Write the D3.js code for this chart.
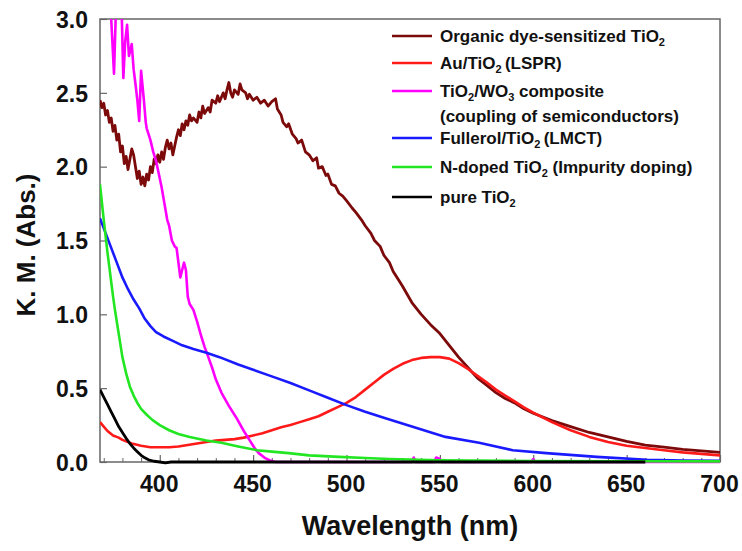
<!DOCTYPE html>
<html>
<head>
<meta charset="utf-8">
<script src="https://cdn.jsdelivr.net/npm/d3@7"></script>
<style>
  body { margin: 0; background: #fff; }
  svg { display: block; font-family: "Liberation Sans", Arial, sans-serif; }
</style>
</head>
<body>
<svg id="chart" width="742" height="551"></svg>
<script>
// ---- Data ----
const dyeWl = [368,369,370,371,372,373,374,375,376,377,378,379,380,381,382,383,384,385,386,387,388,389,390,391,392,393,394,395,396,397,398,399,400,401,402,403,404,405,406,407,408,409,410,411,412,413,414,415,416,417,418,420,421,422,423,424,426,427,428,430,431,432,434,435,436,437,438,439,440,442,443,444,446,447,448,450,452,454,456,458,460,462,463,465,466,468,469,471,473,474,476,478,480,482,484,485,487,489,490,492,494,496,498,500,503,505,508,510,513,515,518,520,523,525,528,530,535,540,545,550,555,560,565,570,575,580,585,590,595,600,610,620,630,640,650,660,670,680,690,700];
const dyeKM = [2.45,2.40,2.43,2.35,2.38,2.30,2.33,2.24,2.28,2.18,2.22,2.10,2.14,2.02,2.07,1.98,2.05,2.12,2.08,2.00,1.92,1.97,1.88,1.93,1.87,1.95,1.91,2.00,1.96,2.05,2.02,2.08,2.03,2.10,2.05,2.13,2.18,2.12,2.16,2.08,2.14,2.20,2.25,2.21,2.29,2.25,2.31,2.28,2.35,2.31,2.33,2.30,2.37,2.33,2.41,2.36,2.40,2.37,2.45,2.43,2.48,2.44,2.50,2.46,2.52,2.57,2.50,2.47,2.52,2.49,2.56,2.52,2.50,2.46,2.49,2.45,2.47,2.43,2.45,2.41,2.44,2.46,2.39,2.35,2.30,2.27,2.29,2.22,2.19,2.16,2.18,2.10,2.08,2.04,2.06,1.99,2.00,1.94,1.95,1.88,1.87,1.82,1.80,1.77,1.72,1.69,1.64,1.60,1.55,1.50,1.46,1.40,1.35,1.29,1.23,1.19,1.08,1.00,0.93,0.87,0.79,0.71,0.64,0.57,0.52,0.47,0.43,0.40,0.36,0.33,0.28,0.24,0.20,0.17,0.14,0.115,0.10,0.085,0.075,0.065];

const auWl = [368,370,372,375,378,380,385,390,395,400,405,410,415,420,425,430,435,440,445,450,455,460,465,470,475,480,485,490,495,500,505,510,515,520,525,530,535,540,545,550,555,560,565,570,575,580,585,590,595,600,610,620,630,640,650,660,670,680,690,700];
const auKM = [0.27,0.24,0.21,0.18,0.165,0.15,0.125,0.11,0.10,0.10,0.10,0.105,0.115,0.125,0.135,0.145,0.15,0.155,0.165,0.18,0.195,0.215,0.235,0.25,0.27,0.29,0.31,0.34,0.37,0.40,0.44,0.49,0.54,0.59,0.63,0.665,0.69,0.705,0.71,0.71,0.70,0.67,0.63,0.585,0.54,0.49,0.45,0.41,0.37,0.335,0.27,0.215,0.17,0.135,0.11,0.095,0.08,0.065,0.055,0.045];

const wo3Wl = [372,373,374,375.5,376.5,378,379.5,380.5,381.5,382.5,383.5,385,386,387,388,389,390,391.5,392.5,393,394,395,396.5,398,399.5,401,402.5,404,405,406.5,408,409,410,411,412,413,414,415,416,418,420,422,424,426,428,430,433,437,441,445,448,451,453,456,459,462,480,535,536,537,547,548,550,551,599,600,601,700];
const wo3KM = [3.3,3.2,3.0,2.63,3.05,3.3,3.1,2.6,2.85,2.96,2.75,2.83,2.66,2.56,2.45,2.31,2.65,2.45,2.30,2.26,2.22,2.18,2.10,2.04,1.95,1.86,1.75,1.64,1.60,1.50,1.46,1.45,1.35,1.25,1.30,1.35,1.30,1.12,1.07,1.03,0.95,0.86,0.78,0.71,0.64,0.56,0.47,0.38,0.30,0.21,0.15,0.09,0.06,0.03,0.01,0.0,0.0,0.0,0.03,0.0,0.0,0.03,0.02,0.0,0.0,0.02,0.0,0.0];

const fulWl = [368,371,374,377,380,383,386,389,392,395,398,402,407,412,418,425,432,442,450,460,470,480,490,500,510,520,535,553,571,589,607,634,661,680,700];
const fulKM = [1.65,1.55,1.45,1.35,1.25,1.17,1.10,1.04,0.97,0.92,0.88,0.85,0.82,0.79,0.765,0.74,0.71,0.66,0.625,0.58,0.535,0.485,0.435,0.385,0.34,0.30,0.24,0.17,0.13,0.08,0.06,0.035,0.015,0.01,0.008];

const nWl = [368,369,370,371,372,373,374,375,376,377,378,379,380,382,384,386,388,390,393,396,400,405,410,416,425,433,442,452,460,469,480,496,510,523,550,600,650,700];
const nKM = [1.88,1.76,1.64,1.53,1.42,1.32,1.22,1.12,1.03,0.95,0.87,0.79,0.71,0.60,0.51,0.45,0.40,0.36,0.32,0.285,0.25,0.215,0.19,0.17,0.145,0.13,0.105,0.08,0.07,0.06,0.045,0.035,0.027,0.02,0.012,0.007,0.005,0.004];

const pureWl = [368,370,372,374,376,378,380,382,384,386,388,390,392,394,397,400,403,406,660];
const pureKM = [0.49,0.44,0.39,0.34,0.29,0.24,0.20,0.16,0.125,0.095,0.07,0.045,0.028,0.015,0.005,0.0,-0.006,0.0,0.0];

const xTicks = [400,450,500,550,600,650,700];
const yTicks = [0.0,0.5,1.0,1.5,2.0,2.5,3.0];

const series = [
  { name: "dye",  wl: dyeWl,  km: dyeKM,  color: "#7d0a0a", w: 2.8 },
  { name: "au",   wl: auWl,   km: auKM,   color: "#ff1a1a", w: 2.6 },
  { name: "wo3",  wl: wo3Wl,  km: wo3KM,  color: "#ff00ff", w: 2.6 },
  { name: "ful",  wl: fulWl,  km: fulKM,  color: "#1a1aff", w: 2.6 },
  { name: "n",    wl: nWl,    km: nKM,    color: "#22e622", w: 2.6 },
  { name: "pure", wl: pureWl, km: pureKM, color: "#000000", w: 2.8 }
];

// legend rows: text parts, [text, isSubscript]
const legendRows = [
  { color: "#7d0a0a", y: 36,  parts: [["Organic dye-sensitized TiO", 0], ["2", 1]] },
  { color: "#ff1a1a", y: 63,  parts: [["Au/TiO", 0], ["2", 1], ["\u2009(LSPR)", 0]] },
  { color: "#ff00ff", y: 91,  parts: [["TiO", 0], ["2", 1], ["/WO", 0], ["3", 1], [" composite", 0]] },
  { color: null,      y: 116, parts: [["(coupling of semiconductors)", 0]] },
  { color: "#1a1aff", y: 138, parts: [["Fullerol/TiO", 0], ["2", 1], ["\u2009(LMCT)", 0]] },
  { color: "#22e622", y: 167, parts: [["N-doped TiO", 0], ["2", 1], [" (Impurity doping)", 0]] },
  { color: "#000000", y: 197, parts: [["pure TiO", 0], ["2", 1]] }
];

// ---- Layout ----
const margin = {top: 19, right: 22, bottom: 89, left: 100};
const width = 742, height = 551;
const pw = width - margin.left - margin.right;
const ph = height - margin.top - margin.bottom;

const svg = d3.select("#chart");

const xScale = d3.scaleLinear().domain([368, 700]).range([0, pw]);
const yScale = d3.scaleLinear().domain([0, 3]).range([ph, 0]);

svg.append("defs").append("clipPath").attr("id", "plotclip")
  .append("rect").attr("x", 0).attr("y", 0).attr("width", pw).attr("height", ph + 3);

const g = svg.append("g").attr("transform", `translate(${margin.left},${margin.top})`);

// frame first, curves drawn over it
g.append("rect")
  .attr("x", 0).attr("y", 0).attr("width", pw).attr("height", ph)
  .attr("fill", "none").attr("stroke", "#666").attr("stroke-width", 1.5);

// axes (ticks inward)
const xAxis = d3.axisBottom(xScale).tickValues(xTicks).tickSizeInner(-7).tickSizeOuter(0).tickPadding(14);
const xMinor = d3.axisBottom(xScale).tickValues(d3.range(370, 700, 10).filter(v => v % 50 !== 0))
  .tickSizeInner(-4).tickSizeOuter(0).tickFormat("");
const yAxis = d3.axisLeft(yScale).tickValues(yTicks).tickSizeInner(-7).tickSizeOuter(0)
  .tickPadding(12).tickFormat(d3.format(".1f"));

const xg = g.append("g").attr("transform", `translate(0,${ph})`).call(xAxis);
g.append("g").attr("transform", `translate(0,${ph})`).call(xMinor)
  .call(a => a.select(".domain").remove())
  .selectAll("line").attr("stroke", "#666");
const yg = g.append("g").call(yAxis);

[xg, yg].forEach(a => {
  a.select(".domain").remove();
  a.selectAll("line").attr("stroke", "#666").attr("stroke-width", 1.2);
  a.selectAll("text")
    .attr("fill", "#111")
    .style("font-size", "23px")
    .style("font-weight", "bold");
});
yg.selectAll("text").attr("dy", "0.36em");
xg.selectAll("text").attr("dx", -1);

// curves
const line = d3.line()
  .x(d => xScale(d[0]))
  .y(d => yScale(d[1]))
  .curve(d3.curveLinear);

const curves = g.append("g").attr("clip-path", "url(#plotclip)");
series.forEach(s => {
  const pts = s.wl.map((w, i) => [w, s.km[i]]);
  curves.append("path")
    .datum(pts)
    .attr("fill", "none")
    .attr("stroke", s.color)
    .attr("stroke-width", s.w)
    .attr("stroke-linejoin", "round")
    .attr("d", line);
});

// axis titles
svg.append("text")
  .attr("x", 410).attr("y", 535)
  .attr("text-anchor", "middle")
  .style("font-size", "27px").style("font-weight", "bold").attr("fill", "#111")
  .text("Wavelength (nm)");

svg.append("text")
  .attr("transform", "translate(35,245) rotate(-90)")
  .attr("text-anchor", "middle")
  .style("font-size", "26px").style("font-weight", "bold").attr("fill", "#111")
  .text("K. M. (Abs.)");

// legend
const legend = svg.append("g");
legendRows.forEach(r => {
  if (r.color) {
    legend.append("line")
      .attr("x1", 392).attr("x2", 432).attr("y1", r.y).attr("y2", r.y)
      .attr("stroke", r.color).attr("stroke-width", 2.6);
  }
  const t = legend.append("text")
    .attr("x", 440).attr("y", r.y + 6)
    .style("font-size", "17px").style("font-weight", "bold").attr("fill", "#111");
  let sub = false;
  r.parts.forEach(([txt, isSub]) => {
    const ts = t.append("tspan").text(txt);
    if (isSub && !sub) { ts.attr("dy", 4).style("font-size", "11px"); sub = true; }
    else if (!isSub && sub) { ts.attr("dy", -4); sub = false; }
    else if (isSub) { ts.style("font-size", "11px"); }
  });
});
</script>
</body>
</html>
